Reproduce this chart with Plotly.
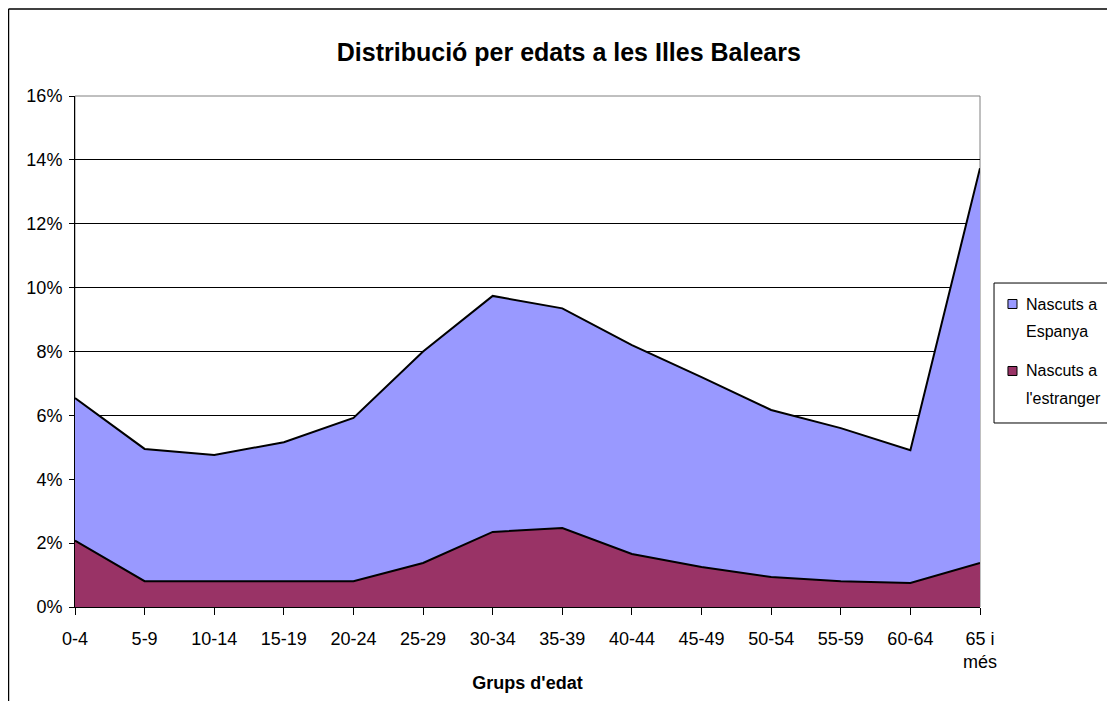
import plotly.graph_objects as go

categories = ["0-4", "5-9", "10-14", "15-19", "20-24", "25-29", "30-34", "35-39",
              "40-44", "45-49", "50-54", "55-59", "60-64", "65 i<br>més"]
# cumulative total (%)
total = [6.54, 4.95, 4.76, 5.16, 5.92, 8.0, 9.74, 9.35, 8.2, 7.2, 6.17, 5.6, 4.91, 13.74]
# born abroad (%)
estranger = [2.08, 0.81, 0.81, 0.81, 0.81, 1.38, 2.35, 2.47, 1.66, 1.25, 0.94, 0.81, 0.75, 1.38]
espanya = [round(t - e, 2) for t, e in zip(total, estranger)]

names = ["Nascuts a<br>Espanya", "Nascuts a<br>l'estranger"]
colors = ["#9999FF", "#993366"]

x = list(range(len(categories)))

fig = go.Figure()
fig.add_trace(go.Scatter(
    x=x, y=[v / 100 for v in estranger], name=names[1],
    stackgroup="one", mode="lines",
    line=dict(color="black", width=2), fillcolor=colors[1],
))
fig.add_trace(go.Scatter(
    x=x, y=[v / 100 for v in espanya], name=names[0],
    stackgroup="one", mode="lines",
    line=dict(color="black", width=2), fillcolor=colors[0],
))

font_family = "Liberation Sans, Arial, sans-serif"

fig.update_layout(
    width=1115, height=701,
    margin=dict(l=67, r=143, t=88, b=102, autoexpand=False),
    paper_bgcolor="white", plot_bgcolor="white",
    font=dict(family=font_family, color="black", size=18),
    title=dict(text="<b>Distribució per edats a les Illes Balears</b>",
               x=0.503, xanchor="center", y=0.9372, yanchor="middle",
               font=dict(size=25, family=font_family)),
    showlegend=False,
    hovermode=False,
)

fig.update_xaxes(
    range=[0, len(categories) - 1], automargin=False,
    tickmode="array", tickvals=x, ticktext=categories,
    ticks="outside", ticklen=7, tickcolor="black",
    showgrid=False, showline=True, linecolor="black", linewidth=1,
    mirror=False, zeroline=False, ticklabelstandoff=8,
    tickfont=dict(size=18),
    title=dict(text="<b>Grups d'edat</b>", font=dict(size=18), standoff=5),
)
fig.update_yaxes(
    range=[0, 0.16], dtick=0.02, tickformat=".0%", automargin=False,
    ticks="outside", ticklen=5, tickcolor="black",
    showgrid=True, gridcolor="black", gridwidth=1,
    showline=True, linecolor="black", linewidth=1,
    zeroline=False, tickfont=dict(size=18), ticklabelstandoff=3,
)

# plot area border (gray top / right)
fig.add_shape(type="rect", xref="paper", yref="paper", x0=0, x1=1, y0=0, y1=1,
              line=dict(color="#808080", width=1), layer="below")
# chart outer frame
fig.add_shape(type="line", xref="paper", yref="paper",
              x0=-0.0735, x1=1.2, y0=1.1703, y1=1.1703,
              line=dict(color="black", width=1.5))
fig.add_shape(type="line", xref="paper", yref="paper",
              x0=-0.0735, x1=-0.0735, y0=1.1703, y1=-0.25,
              line=dict(color="black", width=1.5))

# legend box drawn like the original (square swatches)
fig.add_shape(type="rect", xref="paper", yref="paper",
              x0=1.0155, x1=1.1481, y0=0.3601, y1=0.6340,
              line=dict(color="black", width=1), fillcolor="white")
row_centers = [0.59295, 0.46184]
line_gap = 0.0530
for nm, col, yc in zip(names, colors, row_centers):
    fig.add_shape(type="rect", xref="paper", yref="paper",
                  x0=1.0309, x1=1.0409, y0=yc - 0.0088, y1=yc + 0.0088,
                  line=dict(color="black", width=1), fillcolor=col)
    for i, part in enumerate(nm.split("<br>")):
        fig.add_annotation(text=part, xref="paper", yref="paper",
                           x=1.0486, y=yc - i * line_gap,
                           xanchor="left", yanchor="middle", showarrow=False,
                           font=dict(size=16, family=font_family))

fig.write_html("out.html")
